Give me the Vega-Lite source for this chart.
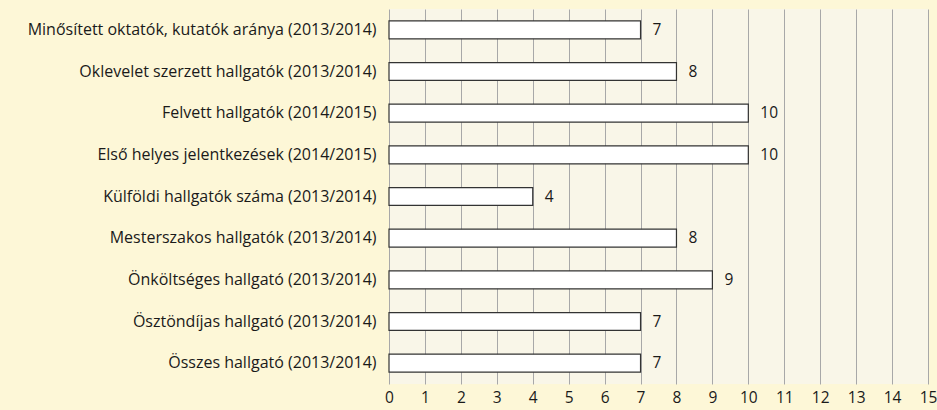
{
  "$schema": "https://vega.github.io/schema/vega-lite/v6.json",
  "autosize": {"type": "none"},
  "width": 539,
  "height": 375,
  "padding": {"left": 389, "top": 9, "right": 9, "bottom": 26},
  "background": "#FDF7D7",
  "config": {
    "view": {"fill": "#F9F6E8", "stroke": null},
    "font": "Open Sans"
  },
  "data": {
    "values": [
      {"kat": "Minősített oktatók, kutatók aránya (2013/2014)", "ertek": 7},
      {"kat": "Oklevelet szerzett hallgatók (2013/2014)", "ertek": 8},
      {"kat": "Felvett hallgatók (2014/2015)", "ertek": 10},
      {"kat": "Első helyes jelentkezések (2014/2015)", "ertek": 10},
      {"kat": "Külföldi hallgatók száma (2013/2014)", "ertek": 4},
      {"kat": "Mesterszakos hallgatók  (2013/2014)", "ertek": 8},
      {"kat": "Önköltséges hallgató (2013/2014)", "ertek": 9},
      {"kat": "Ösztöndíjas hallgató (2013/2014)", "ertek": 7},
      {"kat": "Összes hallgató (2013/2014)", "ertek": 7}
    ]
  },
  "encoding": {
    "y": {
      "field": "kat", "type": "nominal", "sort": null,
      "scale": {"paddingInner": 0.57, "paddingOuter": 0.285},
      "axis": {"title": null, "ticks": false, "domain": false, "labelPadding": 13, "labelFontSize": 16, "labelColor": "#1a1a1a", "labelLimit": 400}
    },
    "x": {
      "field": "ertek", "type": "quantitative",
      "scale": {"domain": [0, 15], "nice": false},
      "axis": {"title": null, "values": [0,1,2,3,4,5,6,7,8,9,10,11,12,13,14,15], "labelOverlap": false, "ticks": false, "domain": false, "gridColor": "#A8A8A8", "gridOpacity": 1, "labelPadding": 6, "labelFontSize": 15.5, "labelColor": "#1a1a1a", "labelFlush": false}
    }
  },
  "layer": [
    {"mark": {"type": "bar", "fill": "#FFFFFF", "stroke": "#333333", "strokeWidth": 1.2}},
    {"mark": {"type": "text", "align": "left", "dx": 12, "fontSize": 15.5, "color": "#1a1a1a"}, "encoding": {"text": {"field": "ertek", "type": "quantitative"}}}
  ]
}
